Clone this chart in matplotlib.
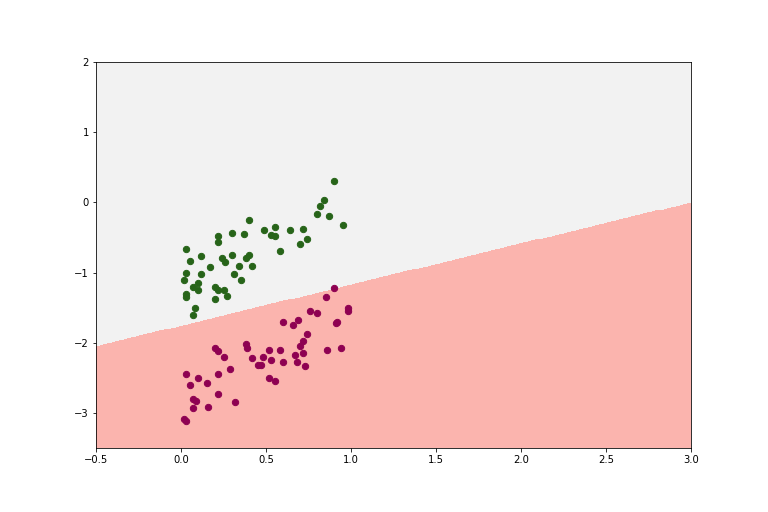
import numpy as np
import matplotlib
matplotlib.use("Agg")
import matplotlib.pyplot as plt

green_x = [0.03,0.05,0.03,0.02,0.03,0.03,0.07,0.08,0.07,0.1,0.1,0.12,0.12,0.17,0.2,0.2,0.22,0.22,0.22,0.24,0.26,0.25,0.27,0.3,0.3,0.31,0.34,0.35,0.37,0.38,0.4,0.4,0.42,0.49,0.53,0.55,0.55,0.58,0.64,0.7,0.72,0.74,0.8,0.82,0.84,0.87,0.9,0.95]
green_y = [-0.66,-0.84,-1.0,-1.1,-1.3,-1.35,-1.2,-1.5,-1.6,-1.25,-1.15,-1.02,-0.77,-0.92,-1.2,-1.38,-1.25,-0.48,-0.56,-0.8,-0.85,-1.25,-1.33,-0.43,-0.75,-1.02,-0.9,-1.1,-0.45,-0.8,-0.75,-0.25,-0.9,-0.4,-0.46,-0.48,-0.35,-0.7,-0.4,-0.6,-0.38,-0.52,-0.16,-0.05,0.03,-0.2,0.31,-0.33]
purple_x = [0.03,0.05,0.02,0.03,0.07,0.07,0.09,0.1,0.15,0.16,0.2,0.22,0.22,0.22,0.25,0.29,0.32,0.38,0.39,0.42,0.45,0.47,0.48,0.52,0.52,0.53,0.55,0.58,0.6,0.6,0.66,0.67,0.68,0.69,0.7,0.72,0.72,0.73,0.74,0.76,0.8,0.85,0.86,0.9,0.91,0.92,0.94,0.98,0.98]
purple_y = [-2.45,-2.6,-3.08,-3.12,-2.8,-2.93,-2.83,-2.5,-2.58,-2.92,-2.08,-2.12,-2.45,-2.73,-2.2,-2.38,-2.85,-2.02,-2.07,-2.22,-2.32,-2.32,-2.2,-2.1,-2.5,-2.25,-2.55,-2.1,-1.7,-2.28,-1.75,-2.18,-2.27,-1.68,-2.05,-1.98,-2.15,-2.33,-1.87,-1.55,-1.58,-1.35,-2.1,-1.22,-1.72,-1.7,-2.07,-1.55,-1.5]

# linear decision boundary y = b0 + b1*x
b0, b1 = -1.757, 0.586

fig = plt.figure(figsize=(768/72, 512/72), dpi=72)
fig.subplots_adjust(left=0.125, right=0.9, bottom=0.125, top=0.879)
ax = fig.add_subplot(111)
xx, yy = np.meshgrid(np.linspace(-0.5, 3.0, 400), np.linspace(-3.5, 2.0, 400))
Z = (yy > b0 + b1*xx).astype(float)
ax.pcolormesh(xx, yy, Z, cmap='Pastel1', shading='auto')
ax.scatter(green_x, green_y, c='#276419', s=40)
ax.scatter(purple_x, purple_y, c='#8e0152', s=40)
ax.set_xlim(-0.5, 3.0)
ax.set_ylim(-3.5, 2.0)
fig.savefig('out.png', dpi=72)
